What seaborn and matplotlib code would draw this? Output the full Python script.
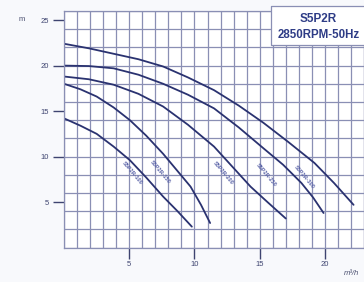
import seaborn as sns
import matplotlib.pyplot as plt
import matplotlib.ticker as mticker
import pandas as pd

# Pump curves (flow m3/h, head m)
flow_1 = [0, 1.9, 3.8, 5.7, 7.6, 9.5, 11.5, 13.4, 15.3, 17.2, 19.2, 20.7, 22.2]
head_1 = [22.4, 21.9, 21.3, 20.7, 19.9, 18.7, 17.3, 15.6, 13.7, 11.6, 9.3, 7.1, 4.7]
flow_2 = [0, 1.9, 3.8, 5.7, 7.6, 9.5, 11.5, 13.4, 15.3, 16.8, 18.2, 19.1, 19.9]
head_2 = [20.0, 19.95, 19.7, 19.0, 18.0, 16.8, 15.3, 13.2, 10.9, 9.1, 7.1, 5.5, 3.8]
flow_3 = [0, 1.9, 3.8, 5.7, 7.6, 9.5, 11.5, 12.9, 14.3, 15.6, 17.0]
head_3 = [18.8, 18.5, 17.9, 16.9, 15.5, 13.5, 11.1, 8.9, 6.7, 5.0, 3.2]
flow_4 = [0, 1.25, 2.5, 3.8, 5.05, 6.3, 7.6, 8.65, 9.7, 10.5, 11.2]
head_4 = [18.0, 17.4, 16.6, 15.4, 14.0, 12.3, 10.3, 8.5, 6.7, 4.7, 2.7]
flow_5 = [0, 1.25, 2.5, 3.8, 5.05, 6.3, 7.6, 8.7, 9.8]
head_5 = [14.2, 13.4, 12.5, 11.1, 9.6, 7.7, 5.6, 4.0, 2.3]

curve_names = ['S5P2R-300', 'S5P2R-250', 'S5P2R-200', 'S5P2R-150', 'S5P2R-100']
label_x = [18.4, 15.5, 12.2, 7.4, 5.2]
label_y = [7.8, 8.0, 8.2, 8.3, 8.2]

frames = []
for name, fx, hy in zip(curve_names,
                        [flow_1, flow_2, flow_3, flow_4, flow_5],
                        [head_1, head_2, head_3, head_4, head_5]):
    frames.append(pd.DataFrame({'flow': fx, 'head': hy, 'model': name}))
df = pd.concat(frames, ignore_index=True)

sns.set_style('white')
plt.rcParams['font.family'] = ['Liberation Sans', 'DejaVu Sans']
plt.rcParams['xtick.bottom'] = True
plt.rcParams['ytick.left'] = True

fig = plt.figure(figsize=(3.64, 2.82), dpi=100)
fig.patch.set_facecolor('#f8f9fc')
ax = fig.add_axes([0.176, 0.122, 0.824, 0.839])
ax.set_facecolor('white')

navy = '#2a3270'
grid_c = '#8a8fb4'

# grid: every 1 m3/h and every 2 m
for gx in range(0, 24):
    ax.axvline(gx, color=grid_c, linewidth=0.9, zorder=0)
for gy in range(0, 27, 2):
    ax.axhline(gy, color=grid_c, linewidth=0.9, zorder=0)

sns.lineplot(data=df, x='flow', y='head', hue='model', units='model',
             estimator=None, sort=False,
             palette=[navy] * 5, linewidth=1.3, legend=False, ax=ax)

ax.set_xlim(0, 23)
ax.set_ylim(0, 26)
ax.xaxis.set_major_locator(mticker.FixedLocator([5, 10, 15, 20]))
ax.yaxis.set_major_locator(mticker.FixedLocator([5, 10, 15, 20, 25]))
ax.grid(False)
ax.tick_params(which='major', direction='out', length=8, width=1.0,
               bottom=True, left=True,
               color='#3e4470', labelsize=5.5, labelcolor='#3e4470', pad=2)
ax.tick_params(axis='y', pad=3)
ax.set_xlabel('')
ax.set_ylabel('')
for s in ax.spines.values():
    s.set_color(grid_c)
    s.set_linewidth(0.9)

# curve labels
for name, lx, ly in zip(curve_names, label_x, label_y):
    ax.text(lx, ly, name, rotation=-50, fontsize=4, fontweight='bold',
            color='#5a63a8', ha='center', va='center')

# model box
ax.fill_between([15.9, 23.5], 22.25, 26.5, color='white', zorder=3,
                edgecolor=grid_c, linewidth=0.9, clip_on=False)
ax.text(19.5, 25.1, 'S5P2R', fontsize=8.5, fontweight='bold', color='#2e3c86',
        ha='center', va='center', zorder=4)
ax.text(19.5, 23.4, '2850RPM-50Hz', fontsize=8.3, fontweight='bold',
        color='#2e3c86', ha='center', va='center', zorder=4)

fig.text(0.06, 0.93, 'm', fontsize=5.5, color='#4a4f70', ha='center', va='center')
fig.text(0.945, 0.03, 'm³/h', fontsize=5.5, color='#4a4f70', ha='left', va='center',
         style='italic')

fig.savefig('out.png', dpi=100, facecolor=fig.get_facecolor())
